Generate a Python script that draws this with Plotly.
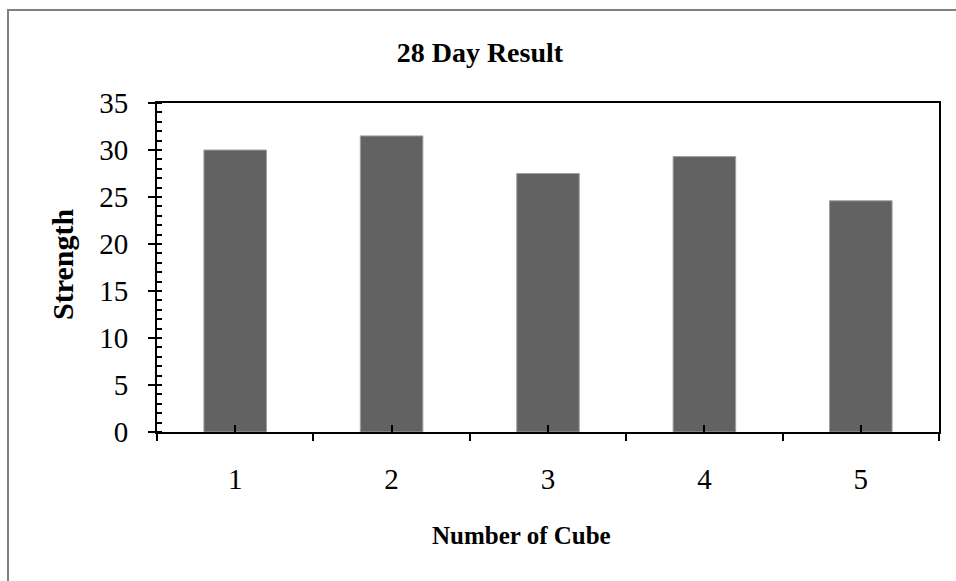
import plotly.graph_objects as go

categories = [1, 2, 3, 4, 5]
strength = [30.0, 31.5, 27.5, 29.3, 24.6]
y_ticks = [0, 5, 10, 15, 20, 25, 30, 35]
boundaries = [0.5, 1.5, 2.5, 3.5, 4.5, 5.5]

L, R, T, B = 157, 939, 103, 432
W, H = 956, 581
pw, ph = R - L, B - T

def px(x):
    return (x - L) / pw

def py(y):
    return (B - y) / ph

FONT = "Liberation Serif"

fig = go.Figure()
fig.add_trace(go.Bar(
    x=categories, y=strength, width=0.4,
    marker=dict(color="#626262", line=dict(color="#a0a0a0", width=1)),
    xaxis="x", yaxis="y", showlegend=False,
))
fig.add_trace(go.Scatter(x=[None], y=[None], xaxis="x2", yaxis="y2", showlegend=False))

fig.update_layout(
    width=W, height=H,
    margin=dict(l=L, r=W - R, t=T, b=H - B),
    paper_bgcolor="white", plot_bgcolor="white",
    font=dict(family=FONT, color="black"),
    title=dict(text="<b>28 Day Result</b>", xref="container", yref="container",
               x=0.502, y=1 - 52 / H, xanchor="center", yanchor="middle",
               font=dict(size=28, family=FONT, color="black")),
    xaxis=dict(range=[0.5, 5.5], tickvals=categories, ticktext=[str(c) for c in categories],
               ticks="inside", ticklen=7, tickwidth=2, tickcolor="black",
               showline=True, linecolor="black", linewidth=2, mirror=True,
               showgrid=False, zeroline=False, ticklabelstandoff=20,
               tickfont=dict(size=29, family=FONT, color="black")),
    yaxis=dict(range=[0, 35], tickvals=y_ticks,
               ticks="outside", ticklen=7, tickwidth=2, tickcolor="black",
               minor=dict(dtick=1, ticks="inside", ticklen=5, tickwidth=2, tickcolor="black", showgrid=False),
               showline=True, linecolor="black", linewidth=2, mirror=True,
               showgrid=False, zeroline=False, ticklabelstandoff=14,
               tickfont=dict(size=29, family=FONT, color="black")),
    xaxis2=dict(overlaying="x", range=[0.5, 5.5], tickvals=boundaries, showticklabels=False,
                ticks="outside", ticklen=8, tickwidth=2, tickcolor="black",
                showline=False, showgrid=False, zeroline=False, anchor="y"),
    yaxis2=dict(overlaying="y", range=[0, 35], tickvals=y_ticks, showticklabels=False,
                ticks="inside", ticklen=5, tickwidth=2, tickcolor="black",
                showline=False, showgrid=False, zeroline=False, anchor="x"),
)

fig.add_annotation(text="<b>Strength</b>", xref="paper", yref="paper",
                   x=px(62), y=py(265), textangle=-90, showarrow=False,
                   xanchor="center", yanchor="middle",
                   font=dict(size=30, family=FONT, color="black"))
fig.add_annotation(text="<b>Number of Cube</b>", xref="paper", yref="paper",
                   x=px(521), y=py(535), showarrow=False,
                   xanchor="center", yanchor="middle",
                   font=dict(size=25, family=FONT, color="black"))

fig.add_shape(type="rect", xref="paper", yref="paper",
              x0=px(8), y0=py(600), x1=px(970), y1=py(10),
              line=dict(color="#808080", width=2), fillcolor="rgba(0,0,0,0)", layer="below")

fig.write_html("out.html", config={"displayModeBar": False},
               post_script="document.body.style.margin='0';")
